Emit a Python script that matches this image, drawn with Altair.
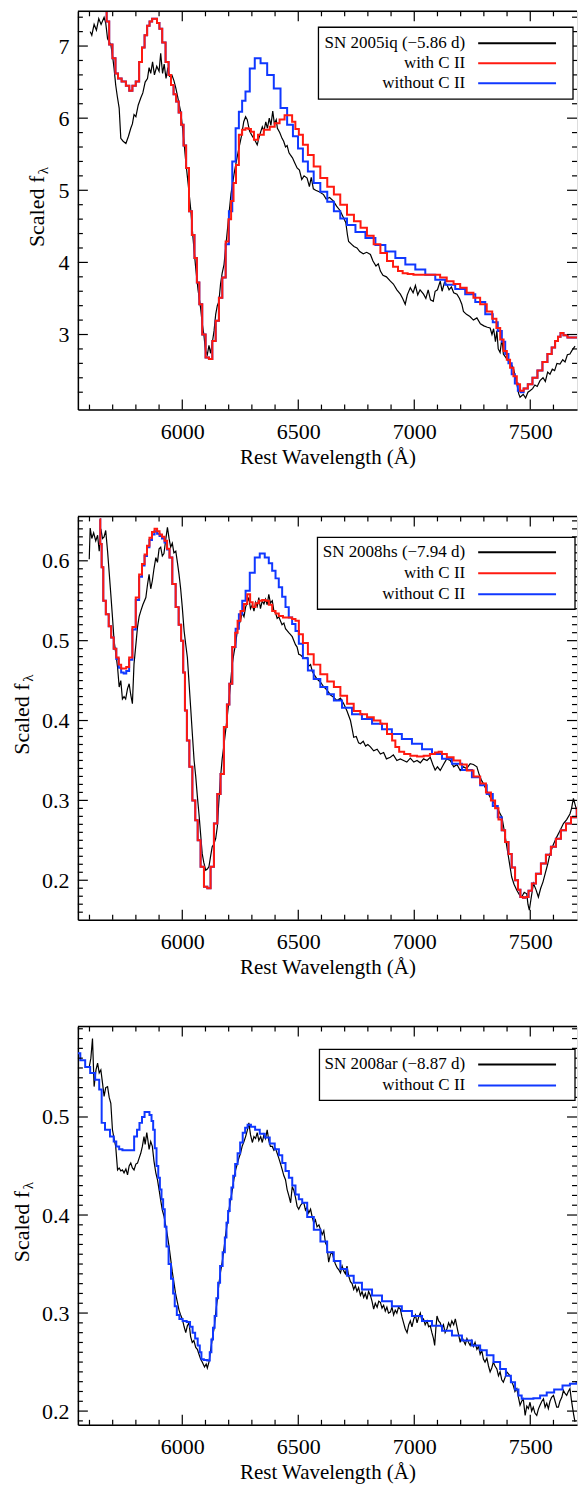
import altair as alt
import pandas as pd

# ---------------- shared axis values ----------------
X_DOMAIN = [5550, 7701.5]
X_MAJOR = [6000, 6500, 7000, 7500]
X_MINOR = [5600, 5700, 5800, 5900, 6100, 6200, 6300, 6400, 6600, 6700, 6800,
           6900, 7100, 7200, 7300, 7400, 7600]

# ---------------- panel 1 : SN 2005iq ----------------
P1_OBS_W = [5603, 5610, 5620, 5630, 5640, 5650, 5663, 5670, 5678, 5692, 5700, 5706, 5713, 5720, 5728,
            5735, 5745, 5757, 5768, 5778, 5785, 5792, 5800, 5810, 5821, 5830, 5840, 5850, 5857, 5864,
            5872, 5880, 5890, 5900, 5907, 5915, 5922, 5930, 5938, 5945, 5955, 5964, 5972, 5980, 5993,
            6000, 6008, 6015, 6025, 6036, 6046, 6058, 6068, 6079, 6086, 6093, 6100, 6108, 6115, 6122,
            6130, 6137, 6144, 6151, 6158, 6165, 6172, 6180, 6190, 6201, 6210, 6223, 6233, 6244, 6255,
            6265, 6273, 6280, 6290, 6302, 6312, 6323, 6330, 6337, 6345, 6352, 6360, 6367, 6375, 6382,
            6390, 6397, 6405, 6410, 6420, 6430, 6437, 6445, 6452, 6460, 6466, 6475, 6485, 6495, 6505,
            6515, 6525, 6538, 6548, 6556, 6565, 6575, 6590, 6609, 6620, 6635, 6652, 6665, 6680, 6695,
            6705, 6712, 6717, 6730, 6740, 6753, 6765, 6780, 6795, 6811, 6822, 6835, 6845, 6854, 6865,
            6880, 6897, 6910, 6925, 6940, 6950, 6961, 6970, 6983, 6995, 7005, 7015, 7025, 7040, 7050,
            7060, 7070, 7082, 7090, 7100, 7112, 7120, 7130, 7141, 7150, 7160, 7170, 7184, 7195, 7205,
            7212, 7225, 7240, 7255, 7270, 7285, 7300, 7315, 7327, 7335, 7342, 7350, 7356, 7362, 7370,
            7378, 7384, 7395, 7406, 7415, 7427, 7440, 7450, 7456, 7463, 7470, 7480, 7490, 7499, 7510,
            7520, 7530, 7542, 7555, 7565, 7575, 7585, 7595, 7605, 7615, 7628, 7640, 7650, 7660, 7671,
            7680, 7693]
P1_OBS_F = [7.20, 7.15, 7.30, 7.22, 7.38, 7.30, 7.40, 7.32, 7.10, 7.02, 6.85, 6.69, 6.46, 6.30, 6.14,
            5.72, 5.68, 5.65, 5.75, 5.86, 5.92, 6.05, 6.02, 6.18, 6.28, 6.35, 6.50, 6.55, 6.70, 6.62,
            6.78, 6.60, 6.72, 6.65, 6.90, 6.62, 6.75, 6.55, 6.70, 6.58, 6.60, 6.52, 6.42, 6.30, 6.09,
            5.90, 5.65, 5.40, 5.10, 4.75, 4.35, 3.92, 3.62, 3.37, 3.15, 3.00, 2.78, 2.72, 2.85, 2.74,
            2.90, 3.05, 3.28, 3.40, 3.46, 3.70, 3.85, 3.97, 4.30, 4.66, 4.95, 5.22, 5.40, 5.58, 5.75,
            5.95, 6.02, 5.98, 5.82, 5.75, 5.70, 5.63, 5.72, 5.80, 5.88, 5.82, 5.95, 5.86, 6.00, 5.90,
            6.10, 5.92, 5.98, 5.86, 5.80, 5.72, 5.68, 5.60, 5.62, 5.52, 5.49, 5.45, 5.38, 5.31, 5.28,
            5.15, 5.20, 5.17, 5.05, 5.18, 5.02, 5.00, 4.98, 4.94, 4.88, 4.90, 4.85, 4.78, 4.72, 4.62,
            4.55, 4.38, 4.29, 4.25, 4.22, 4.20, 4.15, 4.12, 4.14, 4.11, 4.02, 3.95, 3.98, 3.88, 3.82,
            3.80, 3.74, 3.70, 3.62, 3.56, 3.50, 3.42, 3.55, 3.65, 3.58, 3.68, 3.55, 3.62, 3.56, 3.50,
            3.62, 3.48, 3.46, 3.60, 3.62, 3.74, 3.60, 3.72, 3.69, 3.62, 3.66, 3.58, 3.56, 3.50, 3.42,
            3.32, 3.28, 3.25, 3.20, 3.23, 3.15, 3.12, 3.10, 3.09, 3.00, 3.08, 2.90, 3.05, 2.80, 2.75,
            2.95, 2.73, 2.68, 2.63, 2.60, 2.54, 2.35, 2.18, 2.13, 2.15, 2.17, 2.12, 2.20, 2.22, 2.25,
            2.30, 2.28, 2.36, 2.40, 2.35, 2.48, 2.45, 2.52, 2.50, 2.60, 2.59, 2.65, 2.62, 2.72, 2.73,
            2.78, 2.84]

P1_RED_W = [5670, 5678, 5692, 5706, 5718, 5728, 5749, 5765, 5778, 5792, 5807, 5821, 5832,
            5843, 5854, 5864, 5876, 5886, 5896, 5907, 5920, 5936, 5946, 5957, 5968, 5979, 5990, 6000,
            6011, 6022, 6036, 6047, 6058, 6068, 6079, 6093, 6108, 6122, 6137, 6151, 6165, 6180, 6194,
            6205, 6216, 6226, 6237, 6251, 6265, 6280, 6290, 6302, 6316, 6337, 6366, 6388, 6409, 6430,
            6452, 6467, 6480, 6495, 6510, 6530, 6553, 6580, 6610, 6640, 6667, 6695, 6725, 6755, 6782,
            6810, 6840, 6868, 6897, 6920, 6940, 6960, 6983, 7010, 7040, 7070, 7098, 7125, 7155, 7184,
            7212, 7240, 7270, 7298, 7327, 7345, 7363, 7378, 7392, 7406, 7420, 7435, 7449, 7463, 7480,
            7499, 7520, 7542, 7563, 7585, 7600, 7614, 7625, 7636, 7650, 7671, 7700, 7736]
P1_RED_F = [7.48, 7.34, 7.02, 6.83, 6.62, 6.55, 6.51, 6.45, 6.38, 6.45, 6.51, 6.78, 6.98,
            7.15, 7.28, 7.34, 7.38, 7.38, 7.32, 7.24, 7.05, 6.78, 6.60, 6.46, 6.33, 6.23, 6.08, 5.91,
            5.62, 5.31, 4.71, 4.38, 4.06, 3.72, 3.42, 3.00, 2.68, 2.66, 2.91, 3.19, 3.51, 3.79, 4.29,
            4.60, 4.85, 5.10, 5.35, 5.77, 5.84, 5.86, 5.85, 5.81, 5.70, 5.77, 5.84, 5.88, 5.93, 5.98,
            6.04, 6.04, 5.95, 5.85, 5.77, 5.63, 5.49, 5.33, 5.17, 5.05, 4.94, 4.80, 4.66, 4.57, 4.48,
            4.37, 4.25, 4.13, 4.02, 3.94, 3.88, 3.85, 3.84, 3.83, 3.83, 3.83, 3.83, 3.79, 3.74, 3.70,
            3.65, 3.58, 3.51, 3.42, 3.32, 3.22, 3.09, 2.93, 2.77, 2.65, 2.54, 2.42, 2.31, 2.22, 2.25,
            2.31, 2.40, 2.50, 2.62, 2.73, 2.82, 2.91, 2.97, 3.02, 2.99, 2.96, 2.96, 2.96]

P1_BLUE_W = [5670, 5678, 5692, 5706, 5718, 5728, 5749, 5765, 5778, 5792, 5807, 5821, 5832,
             5843, 5854, 5864, 5876, 5886, 5896, 5907, 5920, 5936, 5946, 5957, 5968, 5979, 5990, 6000,
             6011, 6022, 6036, 6047, 6058, 6068, 6079, 6093, 6108, 6122, 6137, 6151, 6165, 6180, 6194,
             6208, 6223, 6237, 6251, 6265, 6280, 6302, 6323, 6352, 6380, 6409, 6438, 6466, 6488, 6510,
             6530, 6553, 6580, 6610, 6640, 6667, 6695, 6725, 6768, 6811, 6854, 6897, 6940, 6983, 7026,
             7069, 7112, 7155, 7198, 7241, 7285, 7327, 7350, 7370, 7385, 7399, 7413, 7427, 7440, 7453,
             7463, 7480, 7499, 7520, 7542, 7563, 7585, 7600, 7614, 7625, 7636, 7650, 7671, 7700, 7736]
P1_BLUE_F = [7.48, 7.34, 7.02, 6.83, 6.62, 6.55, 6.51, 6.45, 6.38, 6.45, 6.51, 6.78, 6.98,
             7.15, 7.28, 7.34, 7.38, 7.38, 7.32, 7.24, 7.05, 6.78, 6.60, 6.46, 6.33, 6.23, 6.08, 5.91,
             5.62, 5.31, 4.71, 4.38, 4.06, 3.72, 3.42, 3.00, 2.68, 2.66, 2.91, 3.19, 3.51, 3.79, 4.25,
             4.71, 5.40, 5.86, 6.09, 6.24, 6.37, 6.69, 6.83, 6.76, 6.60, 6.41, 6.14, 5.91, 5.75, 5.58,
             5.40, 5.26, 5.10, 4.98, 4.84, 4.71, 4.61, 4.52, 4.42, 4.34, 4.24, 4.15, 4.06, 3.97, 3.90,
             3.83, 3.76, 3.69, 3.63, 3.56, 3.45, 3.28, 3.17, 3.05, 2.90, 2.73, 2.60, 2.45, 2.32, 2.22,
             2.20, 2.25, 2.31, 2.40, 2.50, 2.62, 2.73, 2.82, 2.91, 2.97, 3.02, 2.99, 2.96, 2.96, 2.96]

# ---------------- panel 2 : SN 2008hs ----------------
P2_OBS_W = [5599, 5603, 5610, 5618, 5627, 5635, 5642, 5649, 5656, 5663, 5670, 5678, 5685, 5692, 5699,
            5706, 5713, 5721, 5728, 5735, 5742, 5749, 5756, 5764, 5771, 5778, 5785, 5792, 5800, 5807,
            5814, 5821, 5830, 5843, 5850, 5857, 5864, 5871, 5878, 5886, 5893, 5900, 5907, 5914, 5921,
            5928, 5936, 5943, 5950, 5957, 5964, 5972, 5979, 5986, 5993, 6000, 6008, 6015, 6022, 6029,
            6036, 6043, 6051, 6058, 6065, 6072, 6079, 6086, 6093, 6101, 6108, 6115, 6122, 6129, 6136,
            6144, 6151, 6158, 6165, 6172, 6180, 6187, 6194, 6201, 6208, 6215, 6223, 6230, 6237, 6244,
            6251, 6258, 6266, 6273, 6280, 6287, 6294, 6302, 6309, 6316, 6323, 6330, 6337, 6345, 6352,
            6359, 6366, 6373, 6380, 6388, 6395, 6402, 6409, 6416, 6423, 6430, 6438, 6445, 6452, 6459,
            6466, 6474, 6481, 6488, 6495, 6502, 6510, 6524, 6538, 6545, 6553, 6560, 6567, 6581, 6596,
            6610, 6624, 6639, 6653, 6667, 6682, 6696, 6710, 6725, 6732, 6739, 6750, 6760, 6768, 6780,
            6790, 6800, 6811, 6825, 6840, 6854, 6868, 6880, 6897, 6910, 6925, 6940, 6954, 6968, 6983,
            6998, 7012, 7026, 7040, 7055, 7069, 7080, 7090, 7100, 7112, 7126, 7140, 7155, 7170, 7184,
            7198, 7212, 7226, 7241, 7255, 7270, 7280, 7290, 7298, 7312, 7327, 7341, 7356, 7367, 7378,
            7388, 7399, 7410, 7420, 7430, 7442, 7453, 7463, 7474, 7485, 7490, 7496, 7505, 7514, 7525,
            7535, 7545, 7555, 7564, 7575, 7585, 7600, 7614, 7628, 7643, 7657, 7671, 7678, 7686, 7693,
            7700]
P2_OBS_F = [0.602, 0.641, 0.628, 0.635, 0.625, 0.632, 0.612, 0.640, 0.628, 0.630, 0.638, 0.612, 0.585, 0.558, 0.530,
            0.500, 0.485, 0.467, 0.442, 0.450, 0.427, 0.430, 0.427, 0.440, 0.446, 0.432, 0.421, 0.471, 0.495, 0.517,
            0.530, 0.537, 0.545, 0.554, 0.570, 0.583, 0.565, 0.575, 0.590, 0.604, 0.598, 0.615, 0.617, 0.606, 0.609,
            0.625, 0.642, 0.628, 0.617, 0.622, 0.610, 0.612, 0.598, 0.583, 0.565, 0.542, 0.512, 0.495, 0.479, 0.448,
            0.417, 0.385, 0.350, 0.330, 0.305, 0.283, 0.258, 0.233, 0.222, 0.2125, 0.214, 0.217, 0.230, 0.242, 0.245,
            0.252, 0.267, 0.300, 0.329, 0.352, 0.370, 0.3875, 0.405, 0.425, 0.446, 0.470, 0.485, 0.496, 0.512, 0.520,
            0.525, 0.535, 0.530, 0.542, 0.548, 0.554, 0.540, 0.545, 0.537, 0.548, 0.543, 0.554, 0.540, 0.550, 0.546,
            0.552, 0.545, 0.558, 0.547, 0.550, 0.537, 0.535, 0.528, 0.530, 0.525, 0.520, 0.522, 0.515, 0.5125, 0.510,
            0.508, 0.505, 0.500, 0.495, 0.492, 0.483, 0.482, 0.478, 0.479, 0.468, 0.470, 0.462, 0.458, 0.452, 0.448,
            0.442, 0.438, 0.432, 0.429, 0.425, 0.428, 0.421, 0.412, 0.400, 0.390, 0.379, 0.380, 0.372, 0.371, 0.374,
            0.368, 0.370, 0.367, 0.362, 0.364, 0.358, 0.360, 0.352, 0.354, 0.357, 0.350, 0.352, 0.350, 0.348, 0.353,
            0.348, 0.350, 0.347, 0.352, 0.350, 0.354, 0.345, 0.338, 0.342, 0.3375, 0.345, 0.352, 0.350, 0.342, 0.345,
            0.3375, 0.342, 0.340, 0.346, 0.345, 0.342, 0.332, 0.325, 0.321, 0.312, 0.304, 0.298, 0.292, 0.285, 0.279,
            0.262, 0.242, 0.222, 0.204, 0.195, 0.1875, 0.182, 0.179, 0.185, 0.183, 0.170, 0.1625, 0.180, 0.196, 0.188,
            0.179, 0.190, 0.198, 0.208, 0.220, 0.233, 0.245, 0.254, 0.262, 0.271, 0.276, 0.283, 0.290, 0.3025, 0.295,
            0.2875]

P2_RED_W = [5644, 5649, 5656, 5663, 5678, 5688, 5699, 5710, 5721, 5731, 5742, 5753, 5764, 5778,
            5792, 5807, 5821, 5832, 5843, 5853, 5864, 5875, 5886, 5897, 5907, 5918, 5929, 5940, 5950,
            5964, 5979, 5990, 6000, 6008, 6015, 6025, 6036, 6051, 6061, 6072, 6086, 6101, 6115, 6129,
            6144, 6158, 6172, 6187, 6198, 6208, 6223, 6233, 6244, 6258, 6273, 6287, 6298, 6309, 6323,
            6337, 6352, 6366, 6380, 6395, 6409, 6423, 6445, 6466, 6481, 6495, 6510, 6530, 6553, 6580,
            6610, 6640, 6667, 6696, 6725, 6753, 6782, 6811, 6840, 6868, 6897, 6912, 6925, 6945, 6968,
            6998, 7026, 7055, 7080, 7098, 7112, 7126, 7155, 7184, 7212, 7241, 7270, 7298, 7320, 7341,
            7356, 7370, 7384, 7399, 7413, 7427, 7442, 7452, 7463, 7474, 7485, 7500, 7514, 7535, 7557,
            7578, 7600, 7621, 7643, 7665, 7686, 7715, 7736]
P2_RED_F = [0.652, 0.621, 0.592, 0.550, 0.533, 0.518, 0.504, 0.490, 0.479, 0.470, 0.465, 0.465, 0.467, 0.479,
            0.517, 0.554, 0.583, 0.596, 0.608, 0.619, 0.629, 0.636, 0.640, 0.637, 0.633, 0.630, 0.625, 0.615, 0.604,
            0.571, 0.542, 0.520, 0.500, 0.460, 0.4125, 0.375, 0.342, 0.300, 0.275, 0.250, 0.217, 0.192, 0.190, 0.217,
            0.271, 0.308, 0.333, 0.392, 0.420, 0.446, 0.492, 0.510, 0.525, 0.537, 0.546, 0.558, 0.548, 0.542, 0.547,
            0.550, 0.551, 0.550, 0.545, 0.537, 0.534, 0.531, 0.529, 0.529, 0.527, 0.525, 0.508, 0.497, 0.483, 0.470,
            0.458, 0.449, 0.442, 0.431, 0.421, 0.412, 0.408, 0.404, 0.400, 0.396, 0.383, 0.375, 0.367, 0.361, 0.358,
            0.356, 0.355, 0.356, 0.358, 0.360, 0.361, 0.358, 0.354, 0.350, 0.345, 0.3375, 0.330, 0.321, 0.310, 0.300,
            0.290, 0.276, 0.2625, 0.248, 0.233, 0.216, 0.200, 0.188, 0.179, 0.178, 0.179, 0.187, 0.196, 0.208, 0.221,
            0.232, 0.242, 0.252, 0.2625, 0.271, 0.279, 0.290, 0.297]

P2_BLUE_W = [5644, 5649, 5656, 5663, 5678, 5688, 5699, 5710, 5721, 5731, 5742, 5753, 5764, 5778,
             5792, 5807, 5821, 5832, 5843, 5853, 5864, 5875, 5886, 5897, 5907, 5918, 5929, 5940, 5950,
             5964, 5979, 5990, 6000, 6008, 6015, 6025, 6036, 6051, 6061, 6072, 6086, 6101, 6115, 6129,
             6144, 6158, 6172, 6187, 6198, 6208, 6223, 6237, 6251, 6266, 6280, 6302, 6323, 6345, 6366,
             6380, 6395, 6409, 6423, 6438, 6452, 6466, 6481, 6495, 6510, 6530, 6553, 6580, 6610, 6640,
             6667, 6710, 6753, 6796, 6840, 6882, 6925, 6968, 7012, 7055, 7098, 7141, 7184, 7227, 7270,
             7298, 7327, 7350, 7370, 7384, 7399, 7413, 7427, 7442, 7452, 7463, 7474, 7485, 7500, 7514,
             7535, 7557, 7578, 7600, 7621, 7643, 7665, 7686, 7715, 7736]
P2_BLUE_F = [0.652, 0.621, 0.592, 0.550, 0.533, 0.518, 0.504, 0.490, 0.477, 0.466, 0.460, 0.459, 0.462, 0.476,
             0.514, 0.551, 0.580, 0.594, 0.606, 0.617, 0.626, 0.633, 0.637, 0.634, 0.631, 0.628, 0.623, 0.614, 0.604,
             0.571, 0.542, 0.520, 0.500, 0.460, 0.4125, 0.375, 0.342, 0.300, 0.275, 0.250, 0.217, 0.192, 0.190, 0.217,
             0.271, 0.308, 0.333, 0.392, 0.420, 0.446, 0.492, 0.515, 0.533, 0.550, 0.5625, 0.585, 0.604, 0.609, 0.604,
             0.597, 0.5875, 0.578, 0.567, 0.555, 0.542, 0.529, 0.521, 0.512, 0.496, 0.478, 0.4625, 0.452, 0.442, 0.433,
             0.425, 0.416, 0.408, 0.402, 0.396, 0.389, 0.383, 0.377, 0.371, 0.364, 0.358, 0.352, 0.346, 0.338, 0.329,
             0.319, 0.308, 0.293, 0.279, 0.2625, 0.248, 0.233, 0.216, 0.200, 0.188, 0.179, 0.178, 0.179, 0.187, 0.196,
             0.208, 0.221, 0.232, 0.242, 0.252, 0.2625, 0.271, 0.279, 0.290, 0.297]

# ---------------- panel 3 : SN 2008ar ----------------
P3_OBS_W = [5599, 5606, 5613, 5620, 5628, 5635, 5642, 5649, 5656, 5663, 5670, 5678, 5685, 5692, 5699,
            5706, 5713, 5721, 5728, 5735, 5742, 5749, 5757, 5764, 5771, 5778, 5785, 5792, 5800, 5807,
            5814, 5821, 5828, 5835, 5840, 5847, 5852, 5857, 5864, 5871, 5878, 5886, 5893, 5900, 5907,
            5914, 5921, 5928, 5936, 5943, 5950, 5957, 5964, 5971, 5979, 5986, 5993, 6000, 6008, 6015,
            6022, 6029, 6036, 6043, 6050, 6058, 6065, 6072, 6079, 6086, 6096, 6103, 6108, 6115, 6122,
            6130, 6137, 6144, 6151, 6158, 6165, 6172, 6180, 6187, 6194, 6201, 6208, 6216, 6223, 6230,
            6237, 6244, 6251, 6258, 6266, 6273, 6280, 6287, 6294, 6302, 6309, 6316, 6323, 6330, 6338,
            6345, 6352, 6359, 6366, 6373, 6380, 6388, 6395, 6402, 6409, 6416, 6424, 6431, 6438, 6445,
            6452, 6459, 6467, 6474, 6481, 6488, 6495, 6502, 6510, 6517, 6524, 6531, 6538, 6545, 6553,
            6560, 6567, 6574, 6581, 6589, 6596, 6603, 6610, 6617, 6624, 6631, 6639, 6646, 6653, 6660,
            6668, 6675, 6682, 6689, 6696, 6703, 6710, 6717, 6725, 6732, 6739, 6746, 6753, 6760, 6768,
            6775, 6782, 6789, 6796, 6803, 6811, 6818, 6825, 6832, 6840, 6847, 6854, 6861, 6868, 6875,
            6882, 6889, 6897, 6904, 6911, 6918, 6925, 6932, 6940, 6947, 6954, 6961, 6969, 6976, 6983,
            6990, 6998, 7005, 7012, 7019, 7026, 7033, 7040, 7047, 7055, 7062, 7069, 7076, 7083, 7088,
            7093, 7098, 7105, 7112, 7119, 7126, 7133, 7141, 7148, 7155, 7162, 7170, 7177, 7184, 7191,
            7198, 7205, 7212, 7220, 7227, 7234, 7241, 7248, 7255, 7262, 7270, 7277, 7284, 7291, 7298,
            7305, 7313, 7320, 7327, 7334, 7341, 7348, 7356, 7363, 7370, 7377, 7384, 7391, 7399, 7406,
            7413, 7420, 7427, 7434, 7442, 7449, 7456, 7463, 7470, 7478, 7485, 7492, 7499, 7506, 7513,
            7520, 7528, 7535, 7542, 7550, 7557, 7564, 7571, 7578, 7585, 7592, 7600, 7607, 7614, 7621,
            7628, 7636, 7643, 7650, 7657, 7664, 7671, 7677, 7683, 7688, 7693]
P3_OBS_F = [0.551, 0.560, 0.580, 0.531, 0.548, 0.555, 0.545, 0.548, 0.535, 0.521, 0.530, 0.531, 0.520, 0.514, 0.487,
            0.478, 0.470, 0.446, 0.448, 0.445, 0.446, 0.443, 0.447, 0.441, 0.450, 0.453, 0.448, 0.446, 0.452, 0.453,
            0.458, 0.463, 0.470, 0.480, 0.472, 0.484, 0.476, 0.467, 0.475, 0.470, 0.455, 0.443, 0.436, 0.426, 0.415,
            0.405, 0.399, 0.390, 0.379, 0.368, 0.355, 0.342, 0.331, 0.320, 0.311, 0.303, 0.298, 0.294, 0.286, 0.280,
            0.287, 0.290, 0.276, 0.270, 0.272, 0.265, 0.263, 0.258, 0.253, 0.250, 0.245, 0.248, 0.244, 0.250, 0.262,
            0.275, 0.284, 0.300, 0.314, 0.330, 0.342, 0.352, 0.366, 0.380, 0.392, 0.405, 0.415, 0.426, 0.437, 0.446,
            0.452, 0.458, 0.463, 0.470, 0.475, 0.480, 0.486, 0.494, 0.482, 0.474, 0.480, 0.478, 0.484, 0.476, 0.480,
            0.474, 0.482, 0.478, 0.487, 0.476, 0.470, 0.470, 0.466, 0.468, 0.463, 0.458, 0.452, 0.446, 0.440, 0.436,
            0.426, 0.420, 0.4125, 0.429, 0.425, 0.418, 0.409, 0.406, 0.410, 0.412, 0.4125, 0.405, 0.408, 0.402, 0.406,
            0.398, 0.392, 0.395, 0.388, 0.390, 0.385, 0.380, 0.384, 0.372, 0.368, 0.352, 0.360, 0.362, 0.355, 0.350,
            0.346, 0.344, 0.341, 0.348, 0.343, 0.340, 0.348, 0.338, 0.332, 0.330, 0.324, 0.328, 0.322, 0.326, 0.318,
            0.322, 0.316, 0.320, 0.314, 0.322, 0.318, 0.312, 0.304, 0.310, 0.306, 0.312, 0.311, 0.305, 0.308, 0.302,
            0.306, 0.300, 0.301, 0.306, 0.298, 0.303, 0.300, 0.306, 0.304, 0.296, 0.290, 0.284, 0.280, 0.288, 0.292,
            0.286, 0.294, 0.298, 0.290, 0.296, 0.300, 0.292, 0.294, 0.288, 0.292, 0.286, 0.287, 0.280, 0.274, 0.267,
            0.284, 0.297, 0.292, 0.290, 0.284, 0.288, 0.280, 0.284, 0.290, 0.286, 0.292, 0.288, 0.294, 0.286, 0.278,
            0.270, 0.276, 0.272, 0.268, 0.274, 0.270, 0.267, 0.272, 0.266, 0.270, 0.263, 0.266, 0.258, 0.262, 0.253,
            0.250, 0.254, 0.246, 0.240, 0.244, 0.250, 0.246, 0.243, 0.236, 0.240, 0.232, 0.2295, 0.234, 0.240, 0.238,
            0.236, 0.230, 0.226, 0.220, 0.223, 0.214, 0.206, 0.210, 0.2125, 0.1955, 0.205, 0.2025, 0.209, 0.200, 0.204,
            0.198, 0.1955, 0.202, 0.206, 0.210, 0.2125, 0.204, 0.208, 0.2025, 0.210, 0.214, 0.216, 0.210, 0.204, 0.204,
            0.210, 0.214, 0.221, 0.218, 0.216, 0.220, 0.223, 0.212, 0.2025, 0.195, 0.189]

P3_BLUE_W = [5550, 5571, 5592, 5614, 5635, 5649, 5656, 5678, 5699, 5710, 5721, 5735, 5749, 5767, 5785,
             5800, 5810, 5821, 5832, 5843, 5853, 5864, 5871, 5878, 5885, 5893, 5900, 5907, 5914, 5921,
             5928, 5936, 5946, 5957, 5964, 5971, 5982, 5993, 6010, 6028, 6039, 6050, 6061, 6072, 6079,
             6086, 6100, 6115, 6122, 6129, 6136, 6143, 6151, 6158, 6168, 6180, 6187, 6194, 6201, 6208,
             6216, 6223, 6233, 6244, 6255, 6266, 6276, 6287, 6305, 6323, 6345, 6366, 6388, 6409, 6424,
             6438, 6452, 6467, 6481, 6495, 6510, 6524, 6553, 6581, 6610, 6639, 6667, 6696, 6725, 6753,
             6796, 6840, 6882, 6925, 6968, 7012, 7055, 7098, 7141, 7184, 7227, 7270, 7298, 7327, 7356,
             7384, 7406, 7427, 7442, 7456, 7470, 7499, 7528, 7557, 7585, 7621, 7657, 7685, 7714, 7736]
P3_BLUE_F = [0.565, 0.558, 0.551, 0.545, 0.538, 0.528, 0.494, 0.487, 0.480, 0.475, 0.470, 0.467, 0.466, 0.466, 0.466,
             0.480, 0.487, 0.494, 0.500, 0.505, 0.505, 0.502, 0.496, 0.487, 0.468, 0.450, 0.438, 0.426, 0.416, 0.406,
             0.388, 0.368, 0.350, 0.335, 0.320, 0.307, 0.298, 0.294, 0.292, 0.291, 0.286, 0.280, 0.274, 0.267, 0.260,
             0.253, 0.252, 0.2515, 0.260, 0.273, 0.285, 0.297, 0.315, 0.331, 0.348, 0.362, 0.377, 0.392, 0.404, 0.416,
             0.428, 0.440, 0.452, 0.463, 0.474, 0.484, 0.489, 0.492, 0.490, 0.487, 0.483, 0.479, 0.473, 0.467, 0.461,
             0.453, 0.445, 0.438, 0.430, 0.421, 0.416, 0.4125, 0.398, 0.385, 0.373, 0.362, 0.353, 0.345, 0.338, 0.331,
             0.324, 0.318, 0.312, 0.307, 0.302, 0.297, 0.292, 0.287, 0.282, 0.277, 0.272, 0.267, 0.262, 0.257, 0.250,
             0.243, 0.236, 0.2295, 0.222, 0.216, 0.2125, 0.2125, 0.213, 0.216, 0.219, 0.222, 0.226, 0.228, 0.2295, 0.2305]

# ---------------- per-panel axis values and legend labels ----------------
P1_Y_DOMAIN = [1.959, 7.482]
P1_Y_LABELS = [3, 4, 5, 6, 7]
P1_Y_MINOR = [2.2, 2.4, 2.6, 2.8, 3.2, 3.4, 3.6, 3.8, 4.2, 4.4, 4.6, 4.8, 5.2, 5.4, 5.6, 5.8,
              6.2, 6.4, 6.6, 6.8, 7.2, 7.4]
P1_LEGEND = ["SN 2005iq (\u22125.86 d)", "with C II", "without C II"]

P2_Y_DOMAIN = [0.1506, 0.6556]
P2_Y_LABELS = [0.2, 0.3, 0.4, 0.5, 0.6]
P2_Y_MINOR = [0.16, 0.17, 0.18, 0.19, 0.21, 0.22, 0.23, 0.24, 0.25, 0.26, 0.27, 0.28, 0.29,
              0.31, 0.32, 0.33, 0.34, 0.35, 0.36, 0.37, 0.38, 0.39, 0.41, 0.42, 0.43, 0.44, 0.45,
              0.46, 0.47, 0.48, 0.49, 0.51, 0.52, 0.53, 0.54, 0.55, 0.56, 0.57, 0.58, 0.59, 0.61,
              0.62, 0.63, 0.64, 0.65]
P2_LEGEND = ["SN 2008hs (\u22127.94 d)", "with C II", "without C II"]

P3_Y_DOMAIN = [0.1860, 0.5923]
P3_Y_LABELS = [0.2, 0.3, 0.4, 0.5]
P3_Y_MINOR = [0.19, 0.21, 0.22, 0.23, 0.24, 0.25, 0.26, 0.27, 0.28, 0.29, 0.31, 0.32, 0.33,
              0.34, 0.35, 0.36, 0.37, 0.38, 0.39, 0.41, 0.42, 0.43, 0.44, 0.45, 0.46, 0.47, 0.48,
              0.49, 0.51, 0.52, 0.53, 0.54, 0.55, 0.56, 0.57, 0.58, 0.59]
P3_LEGEND = ["SN 2008ar (\u22128.87 d)", "without C II"]

# ---------------- styling ----------------
W = 500
FONT = "Liberation Serif"
BLACK = "#000000"
RED = "#ff1a10"
BLUE = "#1038ff"


def panel(h, ydom, ylabels, yfmt, yminor, obs, models, legend, legend_box, legend_rows, ytitle_x):
    xs = alt.Scale(domain=X_DOMAIN, nice=False, zero=False)
    ys = alt.Scale(domain=ydom, nice=False, zero=False)
    x_axis = alt.Axis(values=X_MAJOR, format="d", title="Rest Wavelength (\u00c5)",
                      ticks=False, grid=False, labelPadding=12, titlePadding=4, labelFlush=False,
                      domain=True, domainColor=BLACK, domainWidth=1.5,
                      labelFont=FONT, labelFontSize=22, labelColor=BLACK,
                      titleFont=FONT, titleFontSize=21, titleColor=BLACK, titleFontWeight="normal")
    y_axis = alt.Axis(values=ylabels, format=yfmt, title=None, ticks=False, grid=False,
                      labelPadding=9, labelFlush=False, domain=True, domainColor=BLACK,
                      domainWidth=1.5, labelFont=FONT, labelFontSize=22, labelColor=BLACK)
    X = alt.X("w:Q", scale=xs, axis=x_axis)
    Y = alt.Y("f:Q", scale=ys, axis=y_axis)

    layers = []
    # observed spectrum
    obs_df = pd.DataFrame({"w": obs[0], "f": obs[1]})
    layers.append(alt.Chart(obs_df).mark_line(color=BLACK, strokeWidth=1.2, clip=True).encode(x=X, y=Y))
    # model spectra
    for (mw, mf, col) in models:
        mdf = pd.DataFrame({"w": mw, "f": mf})
        layers.append(alt.Chart(mdf).mark_line(color=col, strokeWidth=2.0, interpolate="step",
                                               clip=True).encode(x=X, y=Y))

    # inward tick marks on all four sides
    tick = dict(color=BLACK, strokeWidth=1.2)
    for vals, ln in ((X_MAJOR, 10), (X_MINOR, 5)):
        df = pd.DataFrame({"w": vals})
        layers.append(alt.Chart(df).mark_rule(**tick).encode(x=X, y=alt.value(h), y2=alt.value(h - ln)))
        layers.append(alt.Chart(df).mark_rule(**tick).encode(x=X, y=alt.value(0), y2=alt.value(ln)))
    for vals, ln in ((ylabels, 10), (yminor, 5)):
        df = pd.DataFrame({"f": vals})
        layers.append(alt.Chart(df).mark_rule(**tick).encode(y=Y, x=alt.value(0), x2=alt.value(ln)))
        layers.append(alt.Chart(df).mark_rule(**tick).encode(y=Y, x=alt.value(W), x2=alt.value(W - ln)))

    dummy = pd.DataFrame({"d": [0]})
    # top frame line
    layers.append(alt.Chart(dummy).mark_rule(color=BLACK, strokeWidth=1.5).encode(
        x=alt.value(0), x2=alt.value(W), y=alt.value(0)))

    # y title "Scaled f" with subscript lambda
    layers.append(alt.Chart(dummy).mark_text(angle=270, align="center", baseline="alphabetic",
                                             font=FONT, fontSize=22, color=BLACK).encode(
        x=alt.value(ytitle_x), y=alt.value(h / 2 + 1), text=alt.value("Scaled f")))
    layers.append(alt.Chart(dummy).mark_text(angle=270, align="center", baseline="alphabetic",
                                             font=FONT, fontSize=15, color=BLACK).encode(
        x=alt.value(ytitle_x + 4), y=alt.value(h / 2 - 40), text=alt.value("\u03bb")))

    # legend box
    bx0, bx1, by0, by1 = legend_box
    layers.append(alt.Chart(dummy).mark_rect(fill="white", stroke=BLACK, strokeWidth=1.3).encode(
        x=alt.value(bx0), x2=alt.value(bx1), y=alt.value(by0), y2=alt.value(by1)))
    for label, col, ry in zip(legend[0], legend[1], legend_rows):
        layers.append(alt.Chart(dummy).mark_text(align="right", baseline="middle", font=FONT,
                                                 fontSize=17, color=BLACK).encode(
            x=alt.value(388), y=alt.value(ry), text=alt.value(label)))
        layers.append(alt.Chart(dummy).mark_rule(color=col, strokeWidth=2).encode(
            x=alt.value(401), x2=alt.value(479), y=alt.value(ry)))

    return alt.layer(*layers).properties(width=W, height=h)


p1 = panel(399, P1_Y_DOMAIN, P1_Y_LABELS, "d", P1_Y_MINOR,
           (P1_OBS_W, P1_OBS_F),
           [(P1_BLUE_W, P1_BLUE_F, BLUE), (P1_RED_W, P1_RED_F, RED)],
           (P1_LEGEND, [BLACK, RED, BLUE]), (241, 496, 16, 88), [32, 52, 72], -34)
p2 = panel(404, P2_Y_DOMAIN, P2_Y_LABELS, ".1f", P2_Y_MINOR,
           (P2_OBS_W, P2_OBS_F),
           [(P2_BLUE_W, P2_BLUE_F, BLUE), (P2_RED_W, P2_RED_F, RED)],
           (P2_LEGEND, [BLACK, RED, BLUE]), (240, 498, 21, 93), [36, 57, 78], -49)
p3 = panel(399, P3_Y_DOMAIN, P3_Y_LABELS, ".1f", P3_Y_MINOR,
           (P3_OBS_W, P3_OBS_F),
           [(P3_BLUE_W, P3_BLUE_F, BLUE)],
           (P3_LEGEND, [BLACK, BLUE]), (242, 498, 23, 74), [38, 59], -49)

chart = alt.vconcat(p1, p2, p3, spacing=107, bounds="flush").properties(
    padding={"left": 2, "top": 0, "right": 0, "bottom": 0}
).configure_view(stroke=None).configure(background="white")

chart.save("out.html", embed_options={"renderer": "svg", "actions": False})
